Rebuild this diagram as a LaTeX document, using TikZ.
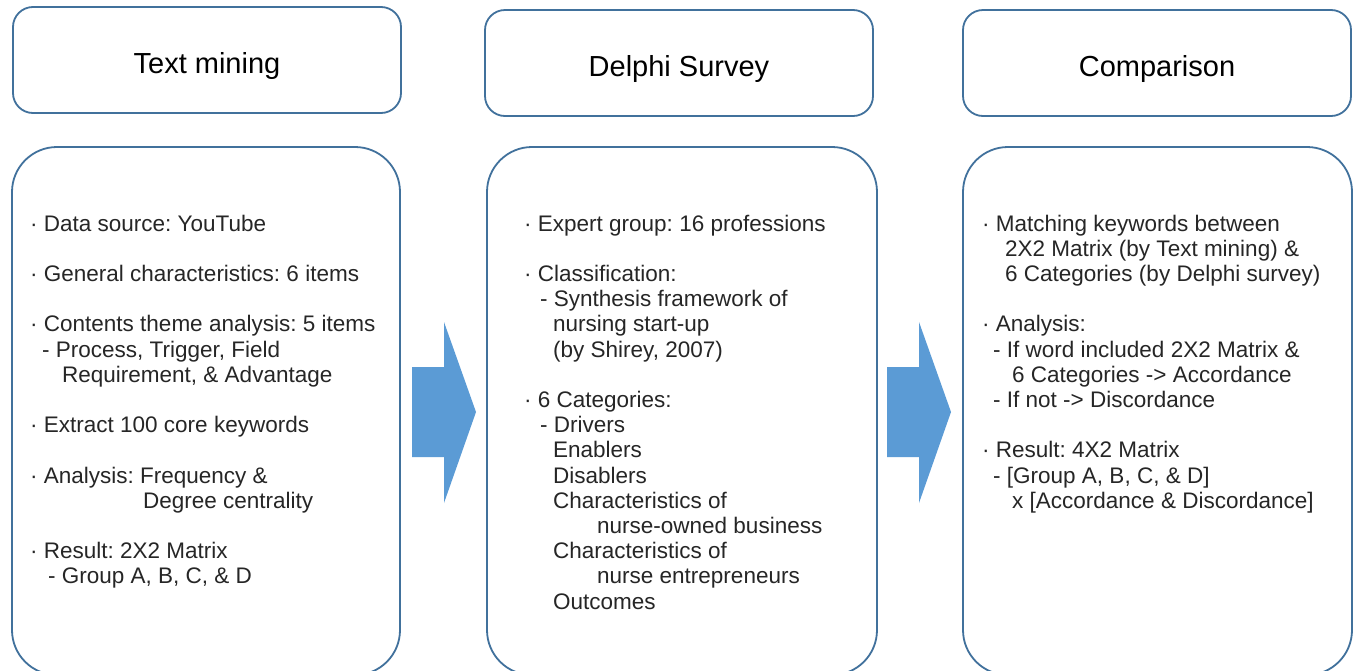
\documentclass[tikz,border=0pt]{standalone}
\usepackage{fontspec}
\setmainfont{Liberation Sans}
\definecolor{boxline}{HTML}{41719C}
\definecolor{arrowfill}{HTML}{5B9BD5}
\definecolor{bodytext}{HTML}{262626}
\newcommand{\tline}[2]{\hspace*{#1pt}#2}
\newcommand{\ttl}[1]{\raisebox{-6pt}[\height][\depth]{#1}}
\begin{document}
\frenchspacing
\begin{tikzpicture}[x=1pt,y=-1pt,
  topbox/.style={draw=boxline, line width=1.8pt, rounded corners=20pt, fill=white,
     minimum width=388pt, minimum height=106pt, inner sep=0pt,
     font=\fontsize{29}{34}\selectfont, text=black},
  bodybox/.style={draw=boxline, line width=1.8pt, rounded corners=45pt, fill=white,
     minimum height=528pt, inner sep=0pt},
  bodytxt/.style={anchor=base west, inner sep=0pt, text=bodytext,
     font=\fontsize{22.5}{25.2}\selectfont},
  blockarrow/.style={fill=arrowfill, draw=none}
]
\useasboundingbox (0,0) rectangle (1354,670);
\clip (0,0) rectangle (1354,670);
\fill[white] (0,0) rectangle (1354,670);

% top boxes
\node[topbox] (t1) at (207,60) {\ttl{Text mining}};
\node[topbox] (t2) at (679,63) {\ttl{Delphi Survey}};
\node[topbox] (t3) at (1157,63) {\ttl{Comparison}};

% bottom boxes
\node[bodybox, minimum width=388pt] (b1) at (206,411) {};
\node[bodybox, minimum width=390pt] (b2) at (682,411) {};
\node[bodybox, minimum width=389pt] (b3) at (1157.5,411) {};

% arrows
\path[blockarrow] (412,367) -- (444,367) -- (444,322) -- (476,412) -- (444,503) -- (444,457) -- (412,457) -- cycle;
\path[blockarrow] (887,367) -- (919,367) -- (919,322) -- (951,412) -- (919,503) -- (919,457) -- (887,457) -- cycle;

% texts
\node[bodytxt] (x1) at (30,231) {\parbox[t]{370pt}{\raggedright\frenchspacing\fontsize{22.5}{25.2}\selectfont
\tline{0}{· Data source: YouTube}\\
\mbox{}\\
\tline{0}{· General characteristics: 6 items}\\
\mbox{}\\
\tline{0}{· Contents theme analysis: 5 items}\\
\tline{12}{- Process, Trigger, Field}\\
\tline{32}{Requirement, \& Advantage}\\
\mbox{}\\
\tline{0}{· Extract 100 core keywords}\\
\mbox{}\\
\tline{0}{· Analysis: Frequency \&}\\
\tline{113}{Degree centrality}\\
\mbox{}\\
\tline{0}{· Result: 2X2 Matrix}\\
\tline{18}{- Group A, B, C, \& D}}};

\node[bodytxt] (x2) at (524,231) {\parbox[t]{350pt}{\raggedright\frenchspacing\fontsize{22.5}{25.2}\selectfont
\tline{0}{· Expert group: 16 professions}\\
\mbox{}\\
\tline{0}{· Classification:}\\
\tline{16}{- Synthesis framework of}\\
\tline{29}{nursing start-up}\\
\tline{29}{(by Shirey, 2007)}\\
\mbox{}\\
\tline{0}{· 6 Categories:}\\
\tline{16}{- Drivers}\\
\tline{29}{Enablers}\\
\tline{29}{Disablers}\\
\tline{29}{Characteristics of}\\
\tline{73}{nurse-owned business}\\
\tline{29}{Characteristics of}\\
\tline{73}{nurse entrepreneurs}\\
\tline{29}{Outcomes}}};

\node[bodytxt] (x3) at (982,231) {\parbox[t]{360pt}{\raggedright\frenchspacing\fontsize{22.5}{25.2}\selectfont
\tline{0}{· Matching keywords between}\\
\tline{23}{2X2 Matrix (by Text mining) \&}\\
\tline{23}{6 Categories (by Delphi survey)}\\
\mbox{}\\
\tline{0}{· Analysis:}\\
\tline{11}{- If word included 2X2 Matrix \&}\\
\tline{30}{6 Categories -> Accordance}\\
\tline{11}{- If not -> Discordance}\\
\mbox{}\\
\tline{0}{· Result: 4X2 Matrix}\\
\tline{11}{- [Group A, B, C, \& D]}\\
\tline{30}{x [Accordance \& Discordance]}}};
\end{tikzpicture}
\end{document}
